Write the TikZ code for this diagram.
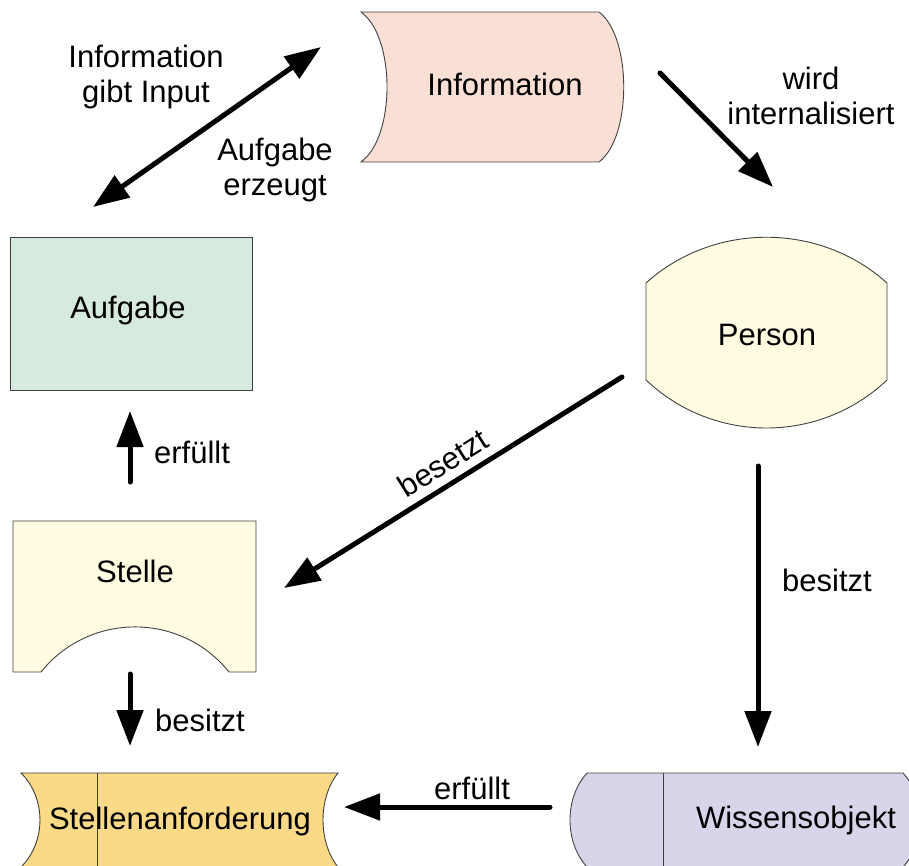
\documentclass[tikz,border=0pt]{standalone}
\usepackage{fontspec}
\setmainfont{Liberation Sans}
\usetikzlibrary{arrows.meta}
\definecolor{cInfo}{HTML}{FADFD5}
\definecolor{cAufg}{HTML}{D7EADF}
\definecolor{cPers}{HTML}{FFFCE1}
\definecolor{cAnf}{HTML}{FAD987}
\definecolor{cWiss}{HTML}{D9D4E9}
\definecolor{cEdge}{HTML}{404040}
\begin{document}
\begin{tikzpicture}[x=1pt,y=-1pt,
  shapeline/.style={draw=cEdge, line width=0.9pt},
  txt/.style={font=\fontsize{31}{35}\selectfont, inner sep=0pt, align=center, anchor=base},
  conn/.style={line width=5pt, line cap=round, -{Triangle[length=36pt,width=26pt]}},
  biconn/.style={line width=5pt, {Triangle[length=36pt,width=26pt]}-{Triangle[length=36pt,width=26pt]}}]
\useasboundingbox (0,0) rectangle (909,866);
\begin{scope}
\clip (0,0) rectangle (909,866);
% Information
\path[shapeline, fill=cInfo] (361,12) -- (599,12) .. controls (632,37) and (632,137) .. (599,162)
  -- (361,162) .. controls (395.7,137) and (395.7,37) .. (361,12) -- cycle;
% Aufgabe
\path[shapeline, fill=cAufg] (10,237) rectangle (252,390);
% Person
\path[shapeline, fill=cPers] (646,283) -- (646,380) .. controls (713.6,444) and (819.4,444) .. (887,380)
  -- (887,283) .. controls (819.4,222) and (713.6,222) .. (646,283) -- cycle;
% Stelle
\path[shapeline, fill=cPers] (13,521) -- (256,521) -- (256,672) -- (229,672)
  .. controls (180.7,611.9) and (89.3,611.9) .. (41,672) -- (13,672) -- cycle;
% Stellenanforderung
\path[shapeline, fill=cAnf] (21,773) -- (338,773) .. controls (318,798) and (318,842) .. (338,867)
  -- (21,867) .. controls (46.3,842) and (46.3,798) .. (21,773) -- cycle;
\draw[shapeline] (97,773) -- (97,867);
% Wissensobjekt
\path[shapeline, fill=cWiss] (587,773) -- (903,773) .. controls (926,798) and (926,842) .. (903,867)
  -- (587,867) .. controls (564.3,842) and (564.3,798) .. (587,773) -- cycle;
\draw[shapeline] (663,773) -- (663,867);
\end{scope}

% texts of shapes
\node[txt] (info) at (505,96) {Information};
\node[txt] (aufg) at (128,318) {Aufgabe};
\node[txt] (pers) at (767,345) {Person};
\node[txt] (stel) at (135,582) {Stelle};
\node[txt] (anf) at (180,829) {Stellenanforderung};
\node[txt] (wiss) at (796,828) {Wissensobjekt};

% connector end points
\coordinate (a1) at (93,207);
\coordinate (a2) at (321,47);
\coordinate (b1) at (660,73);
\coordinate (b2) at (773,187);
\coordinate (c1) at (622,377);
\coordinate (c2) at (284,588);
\coordinate (d1) at (758,466);
\coordinate (d2) at (758,747);
\coordinate (e1) at (130,482);
\coordinate (e2) at (130,411);
\coordinate (f1) at (130,674);
\coordinate (f2) at (130,746);
\coordinate (g1) at (550,807);
\coordinate (g2) at (344,807);

\draw[biconn] (a1) -- (a2);
\draw[conn] (b1) -- (b2);
\draw[conn] (c1) -- (c2);
\draw[conn] (d1) -- (d2);
\draw[conn] (e1) -- (e2);
\draw[conn] (f1) -- (f2);
\draw[conn] (g1) -- (g2);

% labels (base = last line's baseline)
\node[txt] (l1) at (146,103) {Information\\gibt Input};
\node[txt] (l2) at (275,196) {Aufgabe\\erzeugt};
\node[txt] (l3) at (811,125) {wird\\internalisiert};
\node[font=\fontsize{31}{35}\selectfont, inner sep=0pt, rotate=32] (l4) at (443,463) {besetzt};
\node[txt] (l5) at (827,591) {besitzt};
\node[txt] (l6) at (192,463) {erfüllt};
\node[txt] (l7) at (200,731) {besitzt};
\node[txt] (l8) at (472,799) {erfüllt};
\end{tikzpicture}
\end{document}
